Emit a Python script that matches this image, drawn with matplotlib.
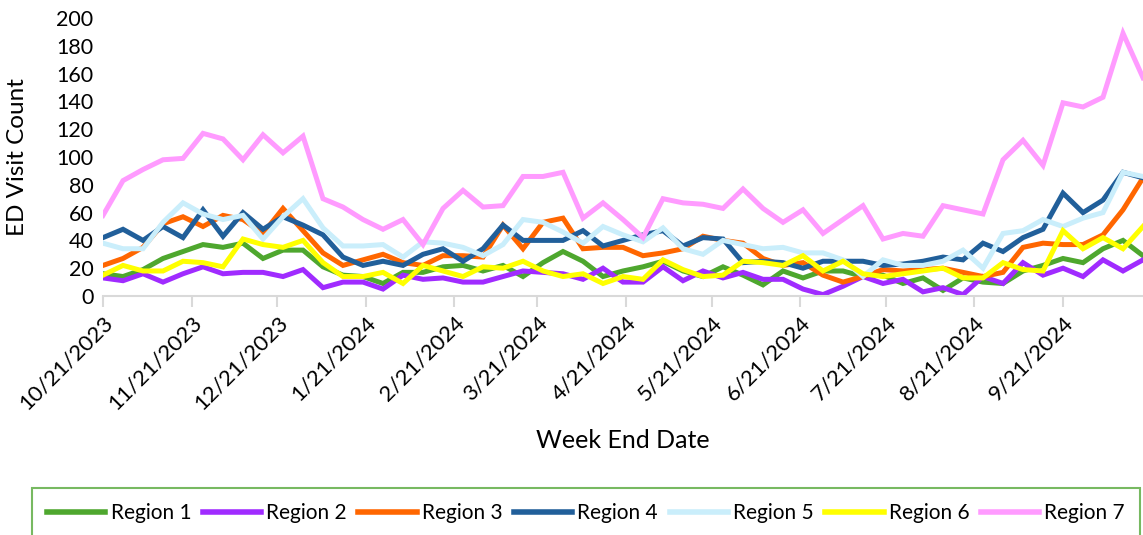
import matplotlib
matplotlib.use("Agg")
import matplotlib.pyplot as plt
import pandas as pd

plt.rcParams['font.family'] = ['Lato', 'DejaVu Sans']

# weekly data, week ending dates
first_week = "2023-10-21"
n_weeks = 53

region_1 = [16, 14, 19, 27, 32, 37, 35, 38, 27, 33, 33, 21, 15, 14, 9, 17, 17,
            21, 22, 18, 22, 14, 24, 32, 25, 14, 18, 21, 25, 18, 14, 21, 15, 8, 18,
            13, 18, 18, 14, 15, 9, 13, 4, 13, 10, 9, 18, 22, 27, 24, 34, 40, 29]
region_2 = [13, 11, 16, 10, 16, 21, 16, 17, 17, 14, 19, 6, 10, 10, 5, 15, 12,
            13, 10, 10, 14, 18, 17, 16, 12, 20, 10, 10, 21, 11, 18, 13, 17, 12, 12,
            5, 1, 7, 14, 9, 12, 3, 6, 1, 14, 9, 24, 15, 20, 14, 26, 18, 26]
region_3 = [22, 27, 35, 52, 57, 50, 58, 55, 45, 63, 47, 31, 22, 26, 30, 24, 22,
            29, 29, 28, 51, 34, 53, 56, 34, 35, 35, 29, 31, 34, 43, 40, 38, 27, 22,
            24, 15, 10, 14, 19, 18, 19, 20, 17, 14, 17, 35, 38, 37, 37, 44, 62, 85]
region_4 = [42, 48, 40, 50, 42, 62, 43, 60, 48, 57, 51, 44, 28, 22, 25, 22, 30,
            34, 25, 34, 51, 40, 40, 40, 47, 36, 40, 44, 47, 36, 42, 41, 24, 25, 24,
            20, 25, 25, 25, 22, 23, 25, 28, 26, 38, 32, 42, 48, 74, 60, 69, 89, 85]
region_5 = [38, 34, 34, 53, 67, 59, 55, 58, 41, 57, 70, 49, 36, 36, 37, 28, 39,
            38, 35, 29, 37, 55, 53, 46, 38, 50, 44, 39, 49, 34, 30, 40, 37, 34, 35,
            31, 31, 26, 14, 26, 22, 22, 25, 33, 20, 45, 47, 55, 50, 56, 60, 89, 86]
region_6 = [15, 22, 18, 18, 25, 24, 21, 41, 37, 35, 40, 24, 14, 14, 17, 9, 22,
            18, 14, 21, 20, 25, 18, 14, 16, 9, 14, 12, 26, 19, 14, 15, 25, 24, 22,
            29, 18, 25, 16, 14, 16, 18, 20, 13, 13, 24, 19, 18, 47, 34, 42, 34, 50]
region_7 = [58, 83, 91, 98, 99, 117, 113, 98, 116, 103, 115, 70, 64, 55, 48, 55, 37,
            63, 76, 64, 65, 86, 86, 89, 56, 67, 55, 42, 70, 67, 66, 63, 77, 63, 53,
            62, 45, 55, 65, 41, 45, 43, 65, 62, 59, 98, 112, 94, 139, 136, 143, 189, 157]

series = [region_1, region_2, region_3, region_4, region_5, region_6, region_7]
labels = ["Region 1", "Region 2", "Region 3", "Region 4", "Region 5", "Region 6", "Region 7"]
colors = ["#4EA72E", "#A02BFF", "#FF6600", "#215F9A", "#CAEEFB", "#FFFF00", "#FF9BFF"]

tick_dates = ["2023-10-21", "2023-11-21", "2023-12-21", "2024-01-21", "2024-02-21",
              "2024-03-21", "2024-04-21", "2024-05-21", "2024-06-21", "2024-07-21",
              "2024-08-21", "2024-09-21"]

weeks = pd.date_range(first_week, periods=n_weeks, freq="7D")
ticks = pd.to_datetime(tick_dates)

fig = plt.figure(figsize=(11.43, 5.35), dpi=100)
ax = fig.add_axes([103 / 1143, 1 - 296 / 535, 1 - 103 / 1143, (296 - 18) / 535])

for vals, lab, col in zip(series, labels, colors):
    ax.plot(weeks, vals, color=col, lw=3.6, label=lab, solid_joinstyle="miter")

ax.set_ylim(0, 200)
ax.set_yticks(range(0, 201, 20))
ax.set_xlim(weeks[0], weeks[-1])
ax.set_xticks(ticks)
ax.set_xticklabels([f"{d.month}/{d.day}/{d.year}" for d in ticks],
                   rotation=45, ha="right", rotation_mode="anchor")

for s in ["top", "right", "left"]:
    ax.spines[s].set_visible(False)
ax.spines["bottom"].set_color("#D9D9D9")
ax.spines["bottom"].set_linewidth(1.5)
ax.tick_params(axis="y", length=0, labelsize=15.5, pad=7, labelcolor="#000000")
ax.tick_params(axis="x", length=8, width=1.5, color="#D9D9D9", labelsize=16, pad=4)

ax.set_ylabel("ED Visit Count", fontsize=17.5)
ax.yaxis.set_label_coords(-0.072, 0.5)
ax.set_xlabel("Week End Date", fontsize=18)
ax.xaxis.set_label_coords(0.5, -0.48)

leg = fig.legend(loc="center", bbox_to_anchor=(586 / 1143, 22 / 535), ncol=7,
                 fontsize=15, frameon=True, fancybox=False, handlelength=2.8,
                 handletextpad=0.25, columnspacing=0.55, borderpad=0.7)
leg.get_frame().set_edgecolor("#55A83A")
leg.get_frame().set_linewidth(1.5)
for h in leg.get_lines():
    h.set_linewidth(4)

fig.savefig("out.png", dpi=100)
